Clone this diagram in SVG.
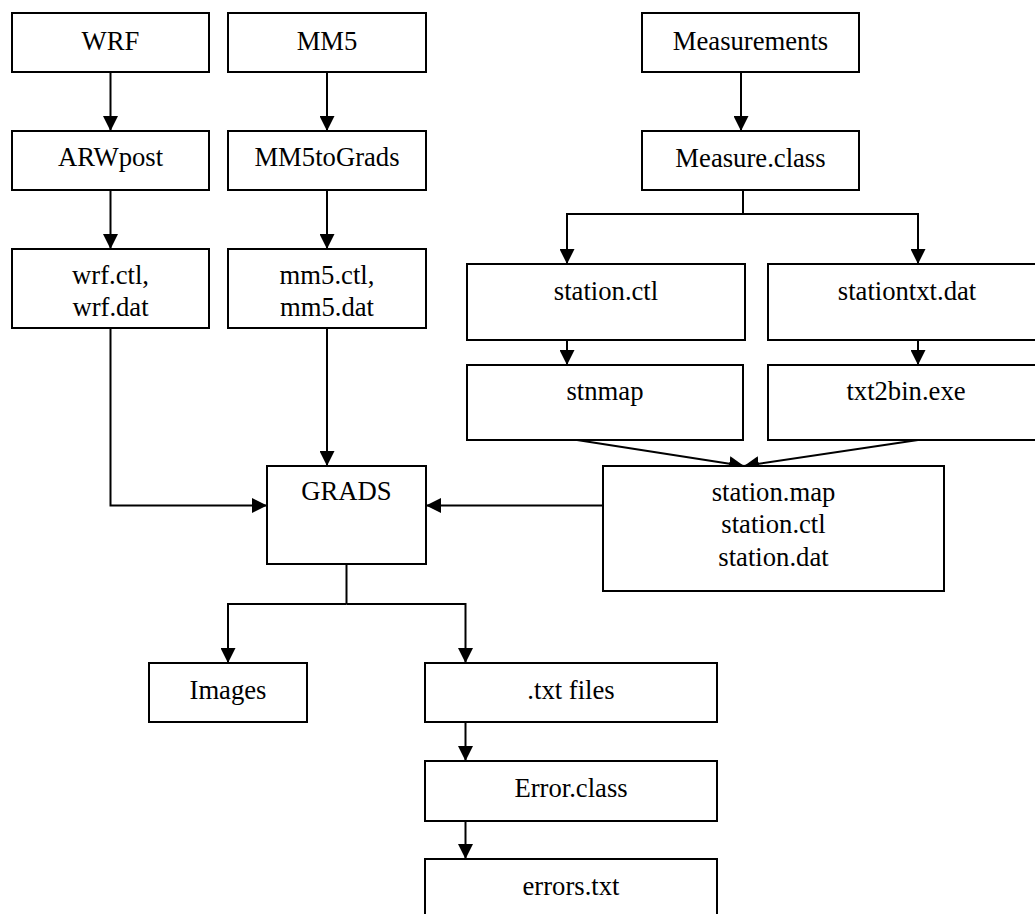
<svg xmlns="http://www.w3.org/2000/svg" width="1035" height="914" viewBox="0 0 1035 914" font-family="'Liberation Serif', 'Times New Roman', serif">
<style>
  .box { fill: #fff; stroke: #000; stroke-width: 2; }
  text { font-family: 'Liberation Serif', 'Times New Roman', serif; }
  .lbl { font-size: 26.67px; fill: #000; text-anchor: middle; }
  .con { fill: none; stroke: #000; stroke-width: 2; }
</style>
<defs>
  <marker id="arr" markerUnits="userSpaceOnUse" markerWidth="15" markerHeight="15" refX="15" refY="7.5" orient="auto">
    <path d="M0,0 L15,7.5 L0,15 z" fill="#000"/>
  </marker>
</defs>
<rect width="1035" height="914" fill="#fff"/>
<g id="connectors">
  <path class="con" d="M110.5 72 V131" marker-end="url(#arr)"/>
  <path class="con" d="M110.5 190 V249" marker-end="url(#arr)"/>
  <path class="con" d="M327 72 V131" marker-end="url(#arr)"/>
  <path class="con" d="M327 190 V249" marker-end="url(#arr)"/>
  <path class="con" d="M110.5 328 V505.5 H267" marker-end="url(#arr)"/>
  <path class="con" d="M327 328 V466" marker-end="url(#arr)"/>
  <path class="con" d="M741 72 V131" marker-end="url(#arr)"/>
  <path class="con" d="M743 190 V214"/>
  <path class="con" d="M743 214 H567 V264" marker-end="url(#arr)"/>
  <path class="con" d="M743 214 H918 V264" marker-end="url(#arr)"/>
  <path class="con" d="M567 340 V365" marker-end="url(#arr)"/>
  <path class="con" d="M918 340 V365" marker-end="url(#arr)"/>
  <path class="con" d="M577 440 L744 466" marker-end="url(#arr)"/>
  <path class="con" d="M918 440 L744 466" marker-end="url(#arr)"/>
  <path class="con" d="M603 505.5 H426" marker-end="url(#arr)"/>
  <path class="con" d="M346.5 564 V604"/>
  <path class="con" d="M346.5 604 H228 V663" marker-end="url(#arr)"/>
  <path class="con" d="M346.5 604 H465.5 V663" marker-end="url(#arr)"/>
  <path class="con" d="M465.5 722 V761" marker-end="url(#arr)"/>
  <path class="con" d="M465.5 821 V859" marker-end="url(#arr)"/>
</g>
<g id="wrf"><rect class="box" x="12" y="13" width="197" height="59"/><text class="lbl" font-family="Liberation Serif" x="110.5" y="49.5">WRF</text></g>
<g id="mm5"><rect class="box" x="228" y="13" width="198" height="59"/><text class="lbl" font-family="Liberation Serif" x="327" y="49.5">MM5</text></g>
<g id="arwpost"><rect class="box" x="12" y="131" width="197" height="59"/><text class="lbl" font-family="Liberation Serif" x="110.5" y="166">ARWpost</text></g>
<g id="mm5tograds"><rect class="box" x="228" y="131" width="198" height="59"/><text class="lbl" font-family="Liberation Serif" x="327" y="166">MM5toGrads</text></g>
<g id="wrfctl"><rect class="box" x="12" y="249" width="197" height="79"/><text class="lbl" font-family="Liberation Serif" x="110.5" y="283.5">wrf.ctl,</text><text class="lbl" font-family="Liberation Serif" x="110.5" y="316">wrf.dat</text></g>
<g id="mm5ctl"><rect class="box" x="228" y="249" width="198" height="79"/><text class="lbl" font-family="Liberation Serif" x="327" y="283.5">mm5.ctl,</text><text class="lbl" font-family="Liberation Serif" x="327" y="316">mm5.dat</text></g>
<g id="measurements"><rect class="box" x="642" y="13" width="217" height="59"/><text class="lbl" font-family="Liberation Serif" x="750.5" y="49.5">Measurements</text></g>
<g id="measureclass"><rect class="box" x="642" y="131" width="217" height="59"/><text class="lbl" font-family="Liberation Serif" x="750.5" y="166.5">Measure.class</text></g>
<g id="stationctl"><rect class="box" x="467" y="264" width="278" height="76"/><text class="lbl" font-family="Liberation Serif" x="606" y="300">station.ctl</text></g>
<g id="stationtxt"><rect class="box" x="768" y="264" width="279" height="76"/><text class="lbl" font-family="Liberation Serif" x="907" y="300">stationtxt.dat</text></g>
<g id="stnmap"><rect class="box" x="467" y="365" width="276" height="75"/><text class="lbl" font-family="Liberation Serif" x="605" y="400">stnmap</text></g>
<g id="txt2bin"><rect class="box" x="768" y="365" width="279" height="75"/><text class="lbl" font-family="Liberation Serif" x="906" y="400">txt2bin.exe</text></g>
<g id="stationmap"><rect class="box" x="603" y="466" width="341" height="125"/><text class="lbl" font-family="Liberation Serif" x="773.5" y="500.5">station.map</text><text class="lbl" font-family="Liberation Serif" x="773.5" y="533">station.ctl</text><text class="lbl" font-family="Liberation Serif" x="773.5" y="565.5">station.dat</text></g>
<g id="grads"><rect class="box" x="267" y="466" width="159" height="98"/><text class="lbl" font-family="Liberation Serif" x="346.5" y="500">GRADS</text></g>
<g id="images"><rect class="box" x="149" y="663" width="158" height="59"/><text class="lbl" font-family="Liberation Serif" x="228" y="698.5">Images</text></g>
<g id="txtfiles"><rect class="box" x="425" y="663" width="292" height="59"/><text class="lbl" font-family="Liberation Serif" x="571" y="698.5">.txt files</text></g>
<g id="errorclass"><rect class="box" x="425" y="761" width="292" height="60"/><text class="lbl" font-family="Liberation Serif" x="571" y="797">Error.class</text></g>
<g id="errorstxt"><rect class="box" x="425" y="859" width="292" height="70"/><text class="lbl" font-family="Liberation Serif" x="571" y="895">errors.txt</text></g>
</svg>
